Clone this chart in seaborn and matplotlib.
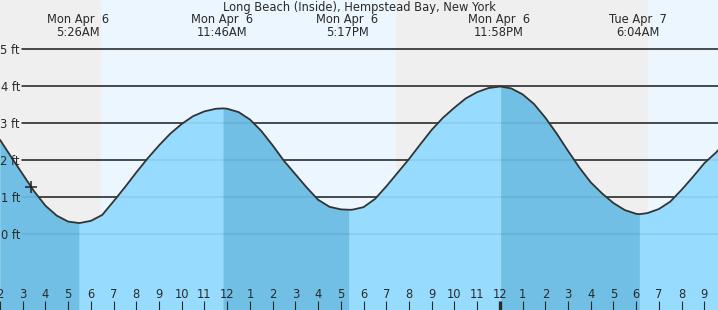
import matplotlib
matplotlib.use("Agg")
import matplotlib.pyplot as plt
import seaborn as sns
import pandas as pd

# ---- data ----
title = "Long Beach (Inside), Hempstead Bay, New York"
# hours since Mon Apr 6 00:00, every half hour, and water level in ft
hours = [2.0, 2.5, 3.0, 3.5, 4.0, 4.5, 5.0, 5.5, 6.0, 6.5, 7.0, 7.5, 8.0,
         8.5, 9.0, 9.5, 10.0, 10.5, 11.0, 11.5, 12.0, 12.5, 13.0, 13.5, 14.0,
         14.5, 15.0, 15.5, 16.0, 16.5, 17.0, 17.5, 18.0, 18.5, 19.0, 19.5,
         20.0, 20.5, 21.0, 21.5, 22.0, 22.5, 23.0, 23.5, 24.0, 24.5, 25.0,
         25.5, 26.0, 26.5, 27.0, 27.5, 28.0, 28.5, 29.0, 29.5, 30.0, 30.5,
         31.0, 31.5, 32.0, 32.5, 33.0, 33.5, 34.0]
heights = [2.55, 2.08, 1.62, 1.16, 0.77, 0.50, 0.34, 0.30, 0.36, 0.52, 0.89,
           1.27, 1.67, 2.05, 2.40, 2.72, 2.98, 3.19, 3.32, 3.39, 3.39, 3.30,
           3.10, 2.79, 2.40, 1.98, 1.62, 1.26, 0.93, 0.74, 0.67, 0.66, 0.73,
           0.95, 1.29, 1.66, 2.03, 2.43, 2.82, 3.15, 3.42, 3.67, 3.84, 3.95,
           3.99, 3.94, 3.78, 3.52, 3.15, 2.72, 2.25, 1.80, 1.40, 1.10, 0.84,
           0.65, 0.55, 0.57, 0.68, 0.88, 1.20, 1.55, 1.92, 2.20, 2.52]
ext_hours = [5.49, 11.83, 17.36, 24.04, 30.15]      # turning points of the curve
ext_heights = [0.30, 3.40, 0.66, 3.99, 0.54]
label_hours = [5.43, 11.77, 17.28, 23.97, 30.07]    # 5:26AM, 11:46AM, ...
ext_labels = ["Mon Apr  6\n5:26AM", "Mon Apr  6\n11:46AM", "Mon Apr  6\n5:17PM",
              "Mon Apr  6\n11:58PM", "Tue Apr  7\n6:04AM"]
night_spans = [(2.0, 6.46), (19.44, 30.53)]
day_spans = [(6.46, 19.44), (30.53, 34.0)]
now_hour, now_height = 3.37, 1.27
tick_hours = list(range(2, 34))
tick_labels = ["2", "3", "4", "5", "6", "7", "8", "9", "10", "11", "12",
               "1", "2", "3", "4", "5", "6", "7", "8", "9", "10", "11", "12",
               "1", "2", "3", "4", "5", "6", "7", "8", "9"]
ft_ticks = [0, 1, 2, 3, 4, 5]
ft_labels = ["0 ft", "1 ft", "2 ft", "3 ft", "4 ft", "5 ft"]

df = pd.DataFrame({"hour": hours + ext_hours, "ft": heights + ext_heights})
df = df.sort_values("hour").reset_index(drop=True)

sns.set_theme(style="white")
plt.rcParams["font.family"] = ["DejaVu Sans"]

fig = plt.figure(figsize=(7.18, 3.10), dpi=100)
ax = fig.add_axes([0, 0, 1, 1])
x0, x1 = 2.02, 33.6
ax.set_xlim(x0, x1)
ax.set_ylim(-2.05, 6.33)

NIGHT = "#efefef"
DAY = "#ebf6fe"
DARK = "#71bfe4"
LIGHT = "#97dcfe"
TXT = "#2a2a2a"
for a, b in night_spans:
    ax.axvspan(a, b, color=NIGHT, lw=0, zorder=0)
for a, b in day_spans:
    ax.axvspan(a, b, color=DAY, lw=0, zorder=0)

gx = 22 / 718
for f in ft_ticks:
    ax.axhline(f, xmin=gx, xmax=1, color="#222222", lw=1.1, zorder=1)

# fill: falling tide dark, rising tide light
bounds = [x0 - 1] + ext_hours + [x1 + 1]
for i in range(len(bounds) - 1):
    seg = df[(df.hour >= bounds[i]) & (df.hour <= bounds[i + 1])]
    col = DARK if i % 2 == 0 else LIGHT
    ax.fill_between(seg.hour, -3, seg.ft, facecolor=col, edgecolor=col,
                    lw=0.4, zorder=2)

for f in ft_ticks:
    ax.axhline(f, xmin=gx, xmax=1, color="black", alpha=0.08, lw=1.1, zorder=3)

sns.lineplot(data=df, x="hour", y="ft", ax=ax, color="#333333", lw=1.3,
             zorder=4, sort=True, solid_joinstyle="round")
ax.plot([now_hour], [now_height], marker="+", color="#222222", ms=9, mew=1.1,
        zorder=5)

ax.text(0.5, 1 - 8 / 310, title, transform=ax.transAxes, ha="center",
        va="center", fontsize=8.3, color=TXT)
tr = ax.get_xaxis_transform()
for h, lab in zip(label_hours, ext_labels):
    ax.text(h, 1 - 26 / 310, lab, transform=tr, ha="center", va="center",
            fontsize=8.3, color=TXT, linespacing=1.0)

ax.set_xticks(tick_hours)
ax.set_xticklabels(tick_labels)
ax.set_yticks(ft_ticks)
ax.set_yticklabels(ft_labels)
ax.tick_params(axis="x", direction="in", length=6.5, width=0.8, pad=-15.5,
               labelsize=8.3, colors=TXT, bottom=True)
ax.tick_params(axis="y", length=0, pad=-14.4, labelsize=8.3, colors=TXT)
for t, h in zip(ax.xaxis.get_major_ticks(), tick_hours):
    if h == 24:
        t.tick1line.set_markeredgewidth(2.4)
ax.xaxis.set_zorder(6)
ax.yaxis.set_zorder(6)
ax.set_xlabel("")
ax.set_ylabel("")
for s in ax.spines.values():
    s.set_visible(False)

fig.savefig("out.png", dpi=100)
